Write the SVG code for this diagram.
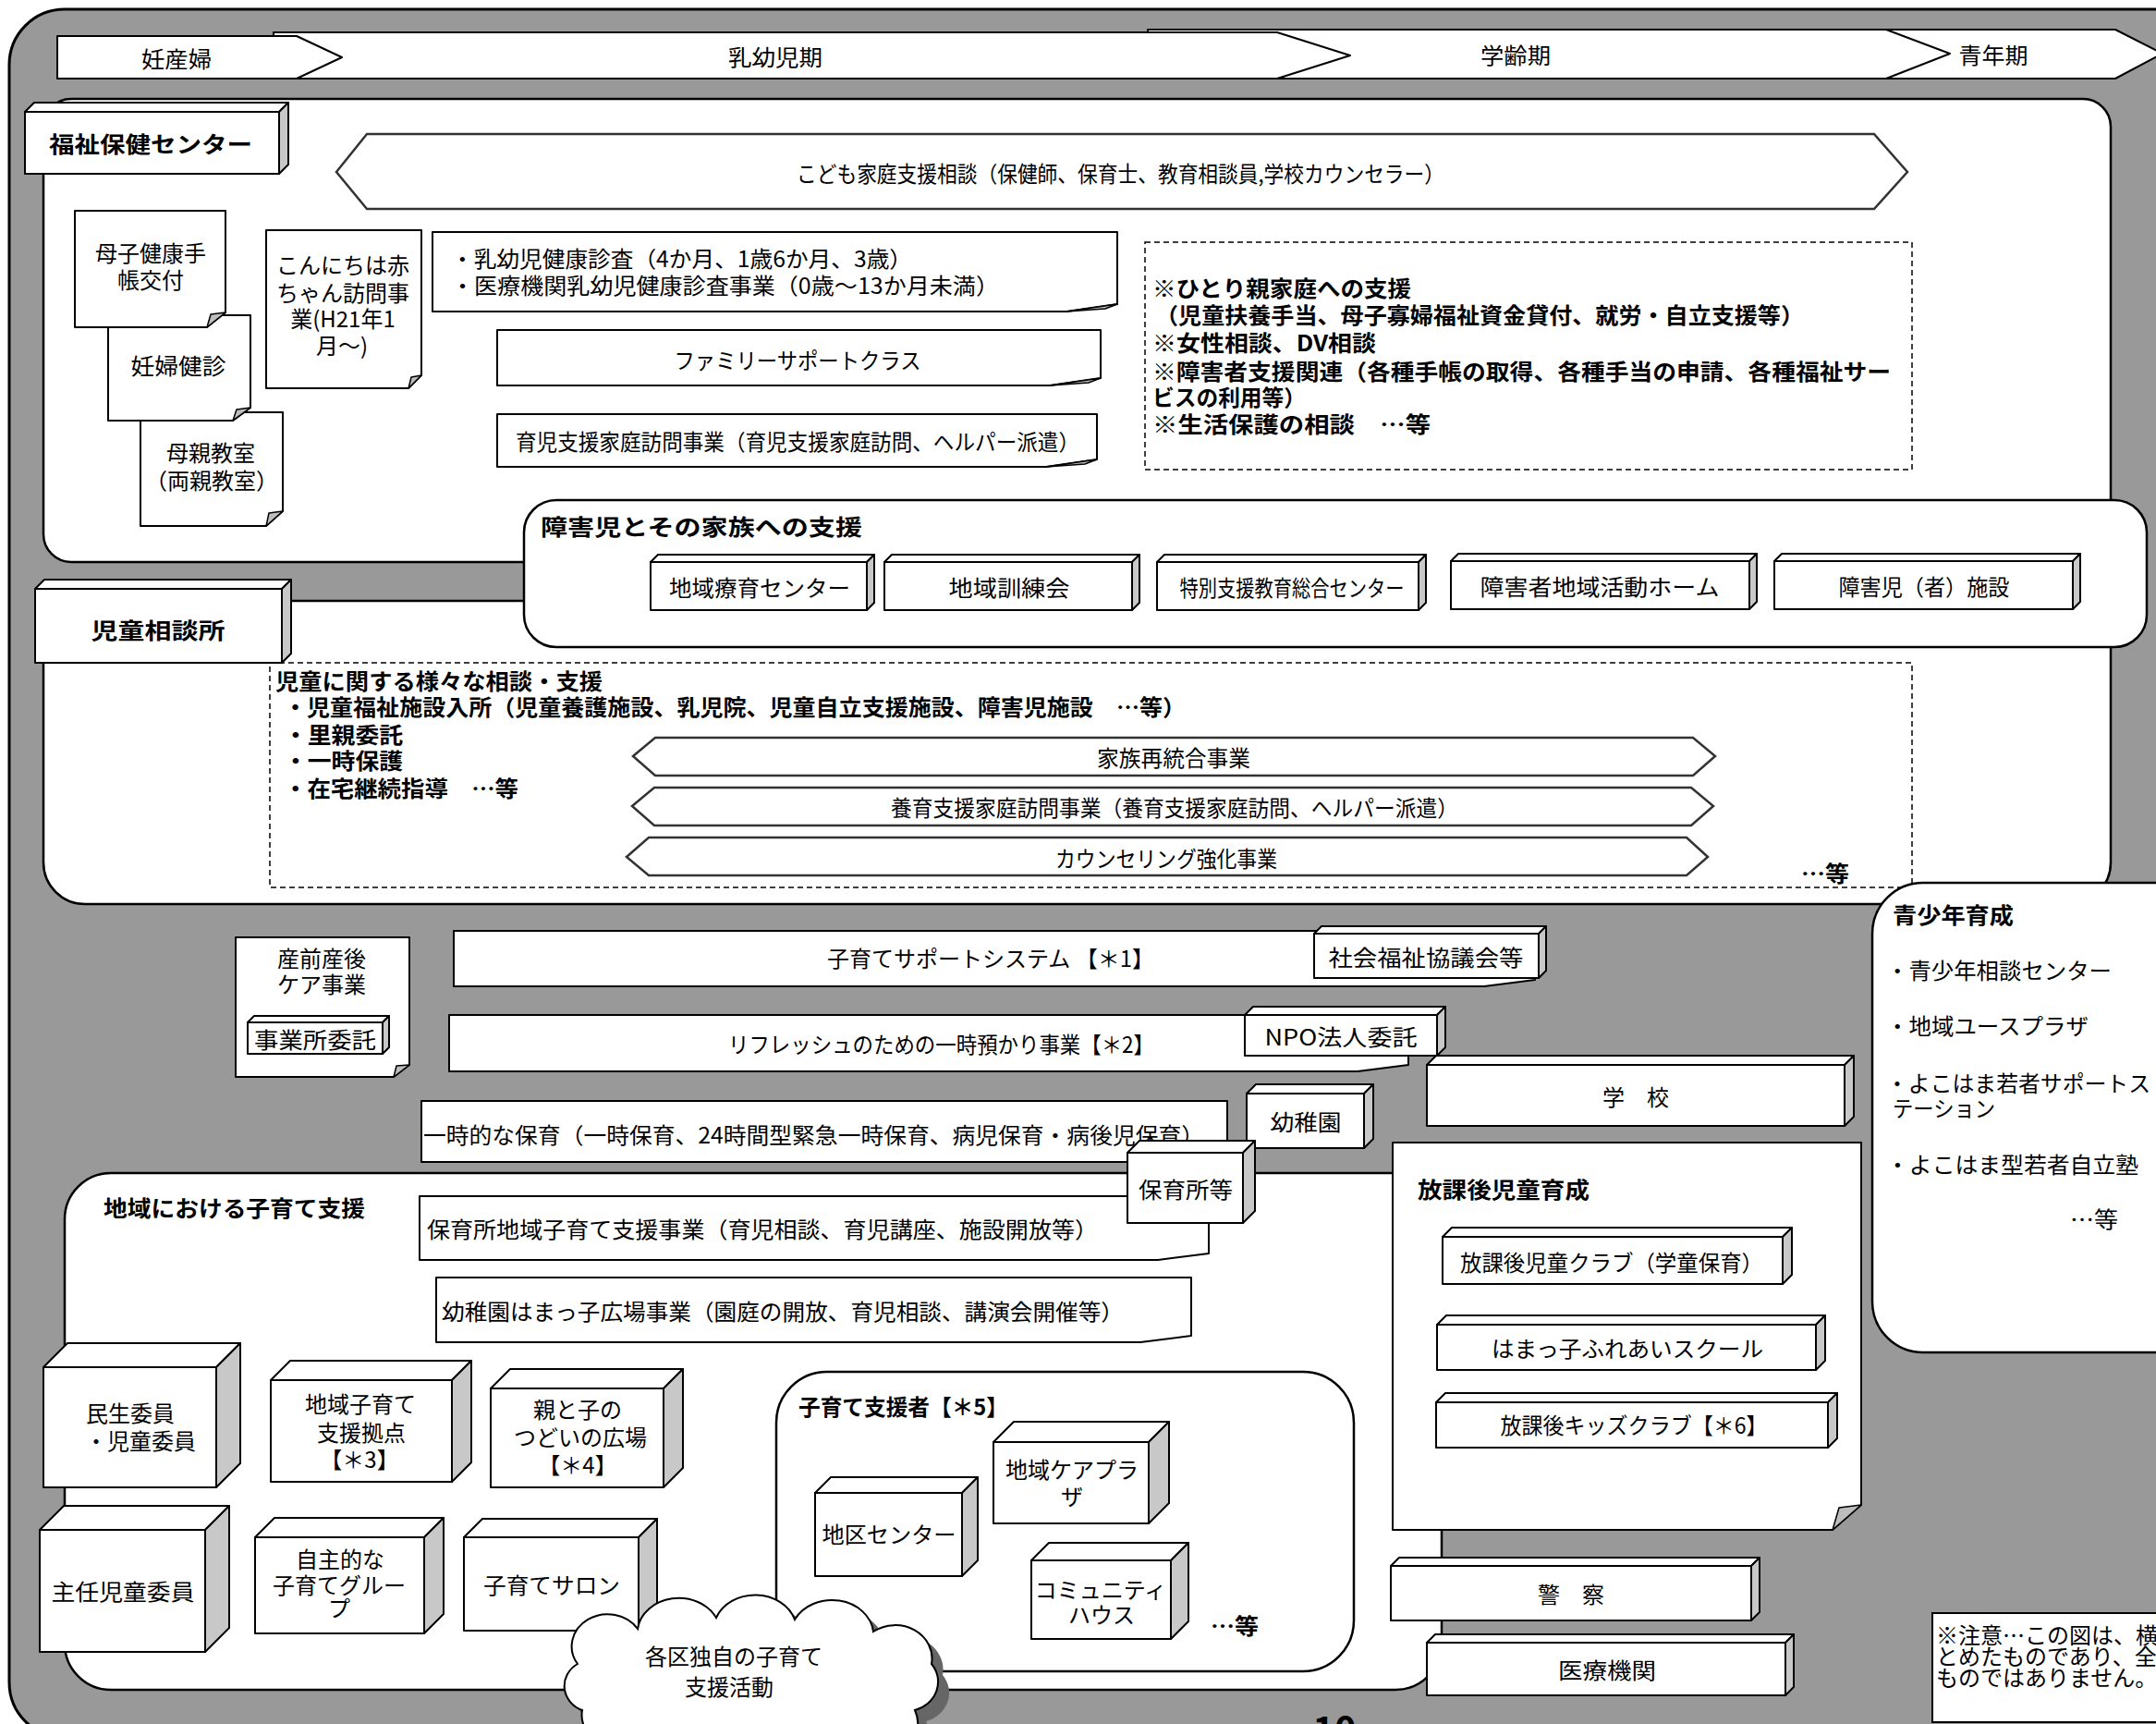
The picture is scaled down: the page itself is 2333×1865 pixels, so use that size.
<svg xmlns="http://www.w3.org/2000/svg" width="2333" height="1865" viewBox="0 0 2333 1865">
<defs>
<style>
.frame{fill:#999;stroke:#000;stroke-width:3}
.panel{fill:#fff;stroke:#000;stroke-width:2.5}
.box{fill:#fff;stroke:#000;stroke-width:2;stroke-linejoin:round}
.side{fill:#c8c8c8;stroke:#000;stroke-width:2;stroke-linejoin:round}
.fold{fill:#bdbdbd;stroke:#000;stroke-width:1.5;stroke-linejoin:round}
.hex{fill:#fff;stroke:#333;stroke-width:2.5}
.dash{fill:none;stroke:#000;stroke-width:1.5;stroke-dasharray:6 4}
.t{font-family:"Noto Sans CJK JP","Noto Sans CJK SC",sans-serif;font-size:24px;fill:#000;dominant-baseline:central}
.b{font-weight:700}
.c{text-anchor:middle}
</style>
</defs>

<rect id="outer-frame" class="frame" x="10" y="10" width="2380" height="1870" rx="60"/>

<g id="phases">
<g id="phase-seinen"><polygon class="box" points="2041,32 2289,32 2340,58 2289,85 2041,85"/><text class="t c" x="2157" y="58" font-size="25" textLength="75" lengthAdjust="spacingAndGlyphs">青年期</text></g>
<g id="phase-gakurei"><polygon class="box" points="1242,32 2041,32 2110,58 2041,85 1242,85"/><text class="t c" x="1640" y="58" font-size="25" textLength="76" lengthAdjust="spacingAndGlyphs">学齢期</text></g>
<g id="phase-nyuyouji"><polygon class="box" points="296,35 1382,35 1461,60 1382,85 296,85"/><text class="t c" x="839" y="60" font-size="25" textLength="102" lengthAdjust="spacingAndGlyphs">乳幼児期</text></g>
<g id="phase-ninsanpu"><polygon class="box" points="62,39 321,39 370,62 321,85 62,85"/><text class="t c" x="191" y="62" font-size="25" textLength="76" lengthAdjust="spacingAndGlyphs">妊産婦</text></g>
</g>

<g id="connectors"></g>

<!-- 福祉保健センター -->
<g id="fukushi-panel">
<rect class="panel" x="47" y="107" width="2237" height="501" rx="30"/>
</g>
<g id="fukushi-label">
<rect class="box" x="27" y="121" width="275" height="67"/>
<path class="box" d="M27 121 l10 -10 h275 l-10 10 Z"/>
<path class="side" d="M302 121 l10 -10 v67 l-10 10 Z"/>
<text class="t b c" x="163" y="154" font-size="27" textLength="220" lengthAdjust="spacingAndGlyphs">福祉保健センター</text>
</g>
<g id="kodomo-katei">
<polygon class="hex" points="364,186 397,145 2028,145 2064,186 2028,226 397,226"/>
<text class="t" x="862" y="186" font-size="22" textLength="701" lengthAdjust="spacingAndGlyphs">こども家庭支援相談（保健師、保育士、教育相談員,学校カウンセラー）</text>
</g>
<g id="hahaoya-kyoshitsu">
<path class="box" d="M152 446 H306 V553 L288 569 H152 Z"/>
<path class="fold" d="M288 569 L306 553 L291 555 Z"/>
<text class="t c" font-size="25"><tspan x="228" y="488">母親教室</tspan><tspan x="229" y="518">（両親教室）</tspan></text>
</g>
<g id="ninpu-kenshin">
<path class="box" d="M117 341 H271 V441 L252 455 H117 Z"/>
<path class="fold" d="M252 455 L271 441 L256 443 Z"/>
<text class="t c" x="193" y="394" font-size="25" textLength="103" lengthAdjust="spacingAndGlyphs">妊婦健診</text>
</g>
<g id="boshi-techo">
<path class="box" d="M81 228 H244 V338 L224 354 H81 Z"/>
<path class="fold" d="M224 354 L244 338 L228 340 Z"/>
<text class="t c" font-size="25"><tspan x="163" y="272">母子健康手</tspan><tspan x="163" y="301">帳交付</tspan></text>
</g>
<g id="konnichiwa">
<path class="box" d="M288 249 H456 V406 L442 420 H288 Z"/>
<path class="fold" d="M442 420 L456 406 L445 408 Z"/>
<text class="t c" font-size="25"><tspan x="371" y="285">こんにちは赤</tspan><tspan x="371" y="315">ちゃん訪問事</tspan><tspan x="371" y="343">業(H21年1</tspan><tspan x="370" y="372">月～)</tspan></text>
</g>
<g id="nyuyouji-kenshin">
<path class="box" d="M468 251 H1209 V329 L1154 337 H468 Z"/>
<path class="fold" d="M1154 337 L1209 329 L1196 334 Z"/>
<text class="t" font-size="23"><tspan x="488" y="278" textLength="499" lengthAdjust="spacingAndGlyphs">・乳幼児健康診査（4か月、1歳6か月、3歳）</tspan><tspan x="488" y="307" textLength="593" lengthAdjust="spacingAndGlyphs">・医療機関乳幼児健康診査事業（0歳～13か月未満）</tspan></text>
</g>
<g id="family-support">
<path class="box" d="M538 357 H1191 V409 L1136 417 H538 Z"/>
<path class="fold" d="M1136 417 L1191 409 L1178 414 Z"/>
<text class="t c" x="863" y="388" font-size="23" textLength="267" lengthAdjust="spacingAndGlyphs">ファミリーサポートクラス</text>
</g>
<g id="ikuji-shien">
<path class="box" d="M538 448 H1187 V497 L1132 505 H538 Z"/>
<path class="fold" d="M1132 505 L1187 497 L1174 502 Z"/>
<text class="t" x="558" y="476" font-size="22" textLength="610" lengthAdjust="spacingAndGlyphs">育児支援家庭訪問事業（育児支援家庭訪問、ヘルパー派遣）</text>
</g>
<g id="hitorioya">
<rect class="dash" x="1239" y="262" width="830" height="246"/>
<text class="t b" font-size="25"><tspan x="1247" y="310" textLength="280" lengthAdjust="spacingAndGlyphs">※ひとり親家庭への支援</tspan><tspan x="1250" y="339" textLength="702" lengthAdjust="spacingAndGlyphs">（児童扶養手当、母子寡婦福祉資金貸付、就労・自立支援等）</tspan><tspan x="1247" y="369" textLength="242" lengthAdjust="spacingAndGlyphs">※女性相談、DV相談</tspan><tspan x="1247" y="400" textLength="799" lengthAdjust="spacingAndGlyphs">※障害者支援関連（各種手帳の取得、各種手当の申請、各種福祉サー</tspan><tspan x="1247" y="428" textLength="166" lengthAdjust="spacingAndGlyphs">ビスの利用等）</tspan><tspan x="1247" y="457" textLength="301" lengthAdjust="spacingAndGlyphs">※生活保護の相談　…等</tspan></text>
</g>

<!-- 児童相談所 -->
<g id="jido-panel">
<rect class="panel" x="47" y="650" width="2237" height="328" rx="45"/>
</g>
<g id="jido-label">
<rect class="box" x="38" y="637" width="267" height="80"/>
<path class="box" d="M38 637 l10 -10 h267 l-10 10 Z"/>
<path class="side" d="M305 637 l10 -10 v80 l-10 10 Z"/>
<text class="t b c" x="171" y="680" font-size="29" textLength="145" lengthAdjust="spacingAndGlyphs">児童相談所</text>
</g>
<g id="jido-soudan">
<rect class="dash" x="292" y="717" width="1777" height="243"/>
<text class="t b" font-size="25"><tspan x="298" y="735" textLength="354" lengthAdjust="spacingAndGlyphs">児童に関する様々な相談・支援</tspan><tspan x="307" y="763" textLength="976" lengthAdjust="spacingAndGlyphs">・児童福祉施設入所（児童養護施設、乳児院、児童自立支援施設、障害児施設　…等）</tspan><tspan x="307" y="793" textLength="129" lengthAdjust="spacingAndGlyphs">・里親委託</tspan><tspan x="307" y="821" textLength="129" lengthAdjust="spacingAndGlyphs">・一時保護</tspan><tspan x="307" y="851" textLength="254" lengthAdjust="spacingAndGlyphs">・在宅継続指導　…等</tspan></text>
<text class="t b" x="1949" y="943" font-size="25" textLength="52" lengthAdjust="spacingAndGlyphs">…等</text>
</g>
<g id="kazoku-saitougou">
<polygon class="hex" points="685,818 709,798 1832,798 1856,818 1832,839 709,839"/>
<text class="t c" x="1270" y="818" font-size="23" textLength="166" lengthAdjust="spacingAndGlyphs">家族再統合事業</text>
</g>
<g id="youiku-shien">
<polygon class="hex" points="684,872 708,852 1830,852 1854,872 1830,893 708,893"/>
<text class="t c" x="1271" y="872" font-size="22" textLength="614" lengthAdjust="spacingAndGlyphs">養育支援家庭訪問事業（養育支援家庭訪問、ヘルパー派遣）</text>
</g>
<g id="counseling">
<polygon class="hex" points="678,927 702,906 1825,906 1848,927 1825,947 702,947"/>
<text class="t c" x="1262" y="927" font-size="22" textLength="240" lengthAdjust="spacingAndGlyphs">カウンセリング強化事業</text>
</g>

<!-- 障害児とその家族への支援 -->
<g id="shogaiji-panel">
<rect class="panel" x="567" y="541" width="1756" height="159" rx="35"/>
<text class="t b" x="585" y="568" font-size="28" textLength="348" lengthAdjust="spacingAndGlyphs">障害児とその家族への支援</text>
</g>
<g id="chiiki-ryouiku">
<rect class="box" x="704" y="608" width="234" height="52"/>
<path class="box" d="M704 608 l8 -8 h234 l-8 8 Z"/>
<path class="side" d="M938 608 l8 -8 v52 l-8 8 Z"/>
<text class="t c" x="822" y="634" font-size="24" textLength="196" lengthAdjust="spacingAndGlyphs">地域療育センター</text>
</g>
<g id="chiiki-kunren">
<rect class="box" x="957" y="608" width="268" height="52"/>
<path class="box" d="M957 608 l8 -8 h268 l-8 8 Z"/>
<path class="side" d="M1225 608 l8 -8 v52 l-8 8 Z"/>
<text class="t c" x="1092" y="634" font-size="26" textLength="131" lengthAdjust="spacingAndGlyphs">地域訓練会</text>
</g>
<g id="tokubetsu-shien">
<rect class="box" x="1252" y="608" width="283" height="52"/>
<path class="box" d="M1252 608 l8 -8 h283 l-8 8 Z"/>
<path class="side" d="M1535 608 l8 -8 v52 l-8 8 Z"/>
<text class="t c" x="1398" y="634" font-size="20" textLength="243" lengthAdjust="spacingAndGlyphs">特別支援教育総合センター</text>
</g>
<g id="shogaisha-home">
<rect class="box" x="1570" y="607" width="323" height="52"/>
<path class="box" d="M1570 607 l8 -8 h323 l-8 8 Z"/>
<path class="side" d="M1893 607 l8 -8 v52 l-8 8 Z"/>
<text class="t c" x="1731" y="633" font-size="26" textLength="259" lengthAdjust="spacingAndGlyphs">障害者地域活動ホーム</text>
</g>
<g id="shogaiji-shisetsu">
<rect class="box" x="1920" y="607" width="323" height="52"/>
<path class="box" d="M1920 607 l8 -8 h323 l-8 8 Z"/>
<path class="side" d="M2243 607 l8 -8 v52 l-8 8 Z"/>
<text class="t c" x="2082" y="633" font-size="25" textLength="185" lengthAdjust="spacingAndGlyphs">障害児（者）施設</text>
</g>

<!-- 青少年育成 -->
<g id="seishonen">
<rect class="panel" x="2026" y="955" width="380" height="508" rx="55"/>
<text class="t b" x="2048" y="988" font-size="26" textLength="131" lengthAdjust="spacingAndGlyphs">青少年育成</text>
<text class="t" x="2041" y="1048" font-size="24" textLength="244" lengthAdjust="spacingAndGlyphs">・青少年相談センター</text>
<text class="t" x="2041" y="1108" font-size="24" textLength="219" lengthAdjust="spacingAndGlyphs">・地域ユースプラザ</text>
<text class="t" font-size="24"><tspan x="2041" y="1170" textLength="286" lengthAdjust="spacingAndGlyphs">・よこはま若者サポートス</tspan><tspan x="2048" y="1197" textLength="111" lengthAdjust="spacingAndGlyphs">テーション</tspan></text>
<text class="t" x="2041" y="1258" font-size="24" textLength="273" lengthAdjust="spacingAndGlyphs">・よこはま型若者自立塾</text>
<text class="t" x="2240" y="1317" font-size="24" textLength="52" lengthAdjust="spacingAndGlyphs">…等</text>
</g>

<!-- middle band -->
<g id="sanzen-sango">
<path class="box" d="M255 1014 H443 V1152 L426 1165 H255 Z"/>
<path class="fold" d="M426 1165 L443 1152 L429 1153 Z"/>
<text class="t c" font-size="25"><tspan x="348" y="1035">産前産後</tspan><tspan x="348" y="1063">ケア事業</tspan></text>
</g>
<g id="jigyousho-itaku">
<rect class="box" x="268" y="1106" width="146" height="34"/>
<path class="box" d="M268 1106 l7 -7 h146 l-7 7 Z"/>
<path class="side" d="M414 1106 l7 -7 v34 l-7 7 Z"/>
<text class="t c" x="341" y="1123" font-size="23" textLength="132" lengthAdjust="spacingAndGlyphs">事業所委託</text>
</g>
<g id="kosodate-support">
<path class="box" d="M491 1007 H1661 V1060 L1606 1067 H491 Z"/>
<text class="t" x="895" y="1035" font-size="24" textLength="354" lengthAdjust="spacingAndGlyphs">子育てサポートシステム 【＊1】</text>
</g>
<g id="shakyo">
<rect class="box" x="1422" y="1010" width="243" height="48"/>
<path class="box" d="M1422 1010 l8 -8 h243 l-8 8 Z"/>
<path class="side" d="M1665 1010 l8 -8 v48 l-8 8 Z"/>
<text class="t c" x="1543" y="1034" font-size="25" textLength="211" lengthAdjust="spacingAndGlyphs">社会福祉協議会等</text>
</g>
<g id="refresh">
<path class="box" d="M486 1098 H1524 V1152 L1469 1159 H486 Z"/>
<text class="t" x="788" y="1128" font-size="24" textLength="461" lengthAdjust="spacingAndGlyphs">リフレッシュのための一時預かり事業【＊2】</text>
</g>
<g id="npo">
<rect class="box" x="1347" y="1098" width="208" height="44"/>
<path class="box" d="M1347 1098 l9 -9 h208 l-9 9 Z"/>
<path class="side" d="M1555 1098 l9 -9 v44 l-9 9 Z"/>
<text class="t c" x="1451" y="1120" font-size="25" textLength="165" lengthAdjust="spacingAndGlyphs">NPO法人委託</text>
</g>
<g id="gakko">
<rect class="box" x="1544" y="1152" width="452" height="66"/>
<path class="box" d="M1544 1152 l10 -10 h452 l-10 10 Z"/>
<path class="side" d="M1996 1152 l10 -10 v66 l-10 10 Z"/>
<text class="t c" x="1770" y="1185" font-size="25">学　校</text>
</g>
<g id="ichijiteki-hoiku">
<path class="box" d="M456 1191 H1328 V1250 L1273 1257 H456 Z"/>
<text class="t" x="458" y="1226" font-size="24" textLength="845" lengthAdjust="spacingAndGlyphs">一時的な保育（一時保育、24時間型緊急一時保育、病児保育・病後児保育）</text>
</g>
<g id="youchien">
<rect class="box" x="1349" y="1183" width="127" height="59"/>
<path class="box" d="M1349 1183 l10 -10 h127 l-10 10 Z"/>
<path class="side" d="M1476 1183 l10 -10 v59 l-10 10 Z"/>
<text class="t c" x="1413" y="1212" font-size="25" textLength="77" lengthAdjust="spacingAndGlyphs">幼稚園</text>
</g>

<!-- 地域における子育て支援 -->
<g id="chiiki-panel">
<rect class="panel" x="70" y="1269" width="1490" height="559" rx="50"/>
<text class="t b" x="112" y="1305" font-size="25" textLength="283" lengthAdjust="spacingAndGlyphs">地域における子育て支援</text>
</g>
<g id="hoikusho-chiiki">
<path class="box" d="M454 1294 H1308 V1356 L1253 1363 H454 Z"/>
<text class="t" x="462" y="1328" font-size="24" textLength="726" lengthAdjust="spacingAndGlyphs">保育所地域子育て支援事業（育児相談、育児講座、施設開放等）</text>
</g>
<g id="hamakko-hiroba">
<path class="box" d="M472 1382 H1289 V1445 L1234 1452 H472 Z"/>
<text class="t" x="478" y="1417" font-size="24" textLength="738" lengthAdjust="spacingAndGlyphs">幼稚園はまっ子広場事業（園庭の開放、育児相談、講演会開催等）</text>
</g>
<g id="minsei-iin">
<rect class="box" x="47" y="1479" width="187" height="130"/>
<path class="box" d="M47 1479 l26 -26 h187 l-26 26 Z"/>
<path class="side" d="M234 1479 l26 -26 v130 l-26 26 Z"/>
<text class="t c" font-size="26"><tspan x="141" y="1527">民生委員</tspan><tspan x="152" y="1557">・児童委員</tspan></text>
</g>
<g id="kyoten">
<rect class="box" x="293" y="1493" width="196" height="110"/>
<path class="box" d="M293 1493 l21 -21 h196 l-21 21 Z"/>
<path class="side" d="M489 1493 l21 -21 v110 l-21 21 Z"/>
<text class="t c" font-size="25"><tspan x="390" y="1517">地域子育て</tspan><tspan x="391" y="1548">支援拠点</tspan><tspan x="389" y="1577">【＊3】</tspan></text>
</g>
<g id="oyako-hiroba">
<rect class="box" x="531" y="1502" width="187" height="107"/>
<path class="box" d="M531 1502 l21 -21 h187 l-21 21 Z"/>
<path class="side" d="M718 1502 l21 -21 v107 l-21 21 Z"/>
<text class="t c" font-size="25"><tspan x="625" y="1523">親と子の</tspan><tspan x="628" y="1553">つどいの広場</tspan><tspan x="625" y="1583">【＊4】</tspan></text>
</g>
<g id="shunin-jido-iin">
<rect class="box" x="43" y="1655" width="179" height="132"/>
<path class="box" d="M43 1655 l26 -26 h179 l-26 26 Z"/>
<path class="side" d="M222 1655 l26 -26 v132 l-26 26 Z"/>
<text class="t c" x="133" y="1720" font-size="26" textLength="155" lengthAdjust="spacingAndGlyphs">主任児童委員</text>
</g>
<g id="jishuteki-group">
<rect class="box" x="276" y="1663" width="183" height="104"/>
<path class="box" d="M276 1663 l21 -21 h183 l-21 21 Z"/>
<path class="side" d="M459 1663 l21 -21 v104 l-21 21 Z"/>
<text class="t c" font-size="25"><tspan x="368" y="1685">自主的な</tspan><tspan x="367" y="1713">子育てグルー</tspan><tspan x="367" y="1738">プ</tspan></text>
</g>
<g id="kosodate-salon">
<rect class="box" x="502" y="1663" width="189" height="101"/>
<path class="box" d="M502 1663 l20 -20 h189 l-20 20 Z"/>
<path class="side" d="M691 1663 l20 -20 v101 l-20 20 Z"/>
<text class="t c" x="597" y="1713" font-size="25" textLength="148" lengthAdjust="spacingAndGlyphs">子育てサロン</text>
</g>
<g id="shiensha-panel">
<rect class="panel" x="840" y="1484" width="625" height="324" rx="55"/>
<text class="t b" x="864" y="1520" font-size="25" textLength="227" lengthAdjust="spacingAndGlyphs">子育て支援者【＊5】</text>
<text class="t b" x="1310" y="1757" font-size="25" textLength="52" lengthAdjust="spacingAndGlyphs">…等</text>
</g>
<g id="chiku-center">
<rect class="box" x="882" y="1615" width="159" height="90"/>
<path class="box" d="M882 1615 l17 -17 h159 l-17 17 Z"/>
<path class="side" d="M1041 1615 l17 -17 v90 l-17 17 Z"/>
<text class="t c" x="962" y="1658" font-size="24" textLength="145" lengthAdjust="spacingAndGlyphs">地区センター</text>
</g>
<g id="care-plaza">
<rect class="box" x="1075" y="1560" width="168" height="88"/>
<path class="box" d="M1075 1560 l22 -22 h168 l-22 22 Z"/>
<path class="side" d="M1243 1560 l22 -22 v88 l-22 22 Z"/>
<text class="t c" font-size="24"><tspan x="1160" y="1588">地域ケアプラ</tspan><tspan x="1160" y="1617">ザ</tspan></text>
</g>
<g id="community-house">
<rect class="box" x="1116" y="1688" width="151" height="85"/>
<path class="box" d="M1116 1688 l19 -19 h151 l-19 19 Z"/>
<path class="side" d="M1267 1688 l19 -19 v85 l-19 19 Z"/>
<text class="t c" font-size="23"><tspan x="1191" y="1718">コミュニティ</tspan><tspan x="1192" y="1745">ハウス</tspan></text>
</g>

<g id="hoikusho-tou">
<rect class="box" x="1220" y="1247" width="125" height="76"/>
<path class="box" d="M1220 1247 l13 -13 h125 l-13 13 Z"/>
<path class="side" d="M1345 1247 l13 -13 v76 l-13 13 Z"/>
<text class="t c" x="1283" y="1285" font-size="25" textLength="102" lengthAdjust="spacingAndGlyphs">保育所等</text>
</g>

<!-- 放課後児童育成 -->
<g id="houkago-panel">
<path class="box" d="M1507 1236 H2014 V1628 L1983 1655 H1507 Z"/>
<path class="fold" d="M1983 1655 L2014 1628 L1990 1631 Z"/>
<text class="t b" x="1534" y="1285" font-size="26" textLength="186" lengthAdjust="spacingAndGlyphs">放課後児童育成</text>
</g>
<g id="houkago-club">
<rect class="box" x="1561" y="1338" width="368" height="51"/>
<path class="box" d="M1561 1338 l10 -10 h368 l-10 10 Z"/>
<path class="side" d="M1929 1338 l10 -10 v51 l-10 10 Z"/>
<text class="t c" x="1744" y="1364" font-size="25" textLength="328" lengthAdjust="spacingAndGlyphs">放課後児童クラブ（学童保育）</text>
</g>
<g id="hamakko-school">
<rect class="box" x="1555" y="1433" width="410" height="49"/>
<path class="box" d="M1555 1433 l10 -10 h410 l-10 10 Z"/>
<path class="side" d="M1965 1433 l10 -10 v49 l-10 10 Z"/>
<text class="t c" x="1761" y="1457" font-size="25" textLength="294" lengthAdjust="spacingAndGlyphs">はまっ子ふれあいスクール</text>
</g>
<g id="kids-club">
<rect class="box" x="1554" y="1517" width="424" height="49"/>
<path class="box" d="M1554 1517 l10 -10 h424 l-10 10 Z"/>
<path class="side" d="M1978 1517 l10 -10 v49 l-10 10 Z"/>
<text class="t c" x="1768" y="1540" font-size="25" textLength="289" lengthAdjust="spacingAndGlyphs">放課後キッズクラブ【＊6】</text>
</g>

<g id="keisatsu">
<rect class="box" x="1505" y="1694" width="390" height="59"/>
<path class="box" d="M1505 1694 l9 -9 h390 l-9 9 Z"/>
<path class="side" d="M1895 1694 l9 -9 v59 l-9 9 Z"/>
<text class="t c" x="1700" y="1723" font-size="25">警　察</text>
</g>
<g id="iryou-kikan">
<rect class="box" x="1544" y="1777" width="388" height="57"/>
<path class="box" d="M1544 1777 l9 -9 h388 l-9 9 Z"/>
<path class="side" d="M1932 1777 l9 -9 v57 l-9 9 Z"/>
<text class="t c" x="1739" y="1805" font-size="25" textLength="106" lengthAdjust="spacingAndGlyphs">医療機関</text>
</g>

<g id="kakuku-cloud">
<path transform="translate(12,12)" fill="#666" d="M625 1800 A38 34 0 0 1 690 1762 A45 38 0 0 1 775 1750 A45 38 0 0 1 860 1752 A45 38 0 0 1 945 1765 A40 36 0 0 1 1008 1800 A35 32 0 0 1 990 1850 A46 38 0 0 1 900 1878 A52 40 0 0 1 800 1885 A52 40 0 0 1 700 1878 A40 35 0 0 1 630 1850 A30 28 0 0 1 625 1800 Z"/>
<path fill="#fff" stroke="#000" stroke-width="2" d="M625 1800 A38 34 0 0 1 690 1762 A45 38 0 0 1 775 1750 A45 38 0 0 1 860 1752 A45 38 0 0 1 945 1765 A40 36 0 0 1 1008 1800 A35 32 0 0 1 990 1850 A46 38 0 0 1 900 1878 A52 40 0 0 1 800 1885 A52 40 0 0 1 700 1878 A40 35 0 0 1 630 1850 A30 28 0 0 1 625 1800 Z"/>
<text class="t c" font-size="27"><tspan x="794" y="1790">各区独自の子育て</tspan><tspan x="789" y="1823">支援活動</tspan></text>
</g>

<g id="note-chui">
<rect fill="#fff" stroke="#000" stroke-width="2" x="2091" y="1745" width="300" height="118"/>
<text class="t" font-size="23"><tspan x="2095" y="1767">※注意…この図は、横</tspan><tspan x="2095" y="1790">とめたものであり、全</tspan><tspan x="2095" y="1813">ものではありません。</tspan></text>
</g>

<text id="page-number" x="1444" y="1886" font-family="Noto Sans CJK JP, sans-serif" font-size="40" font-weight="700" text-anchor="middle">10</text>
</svg>
